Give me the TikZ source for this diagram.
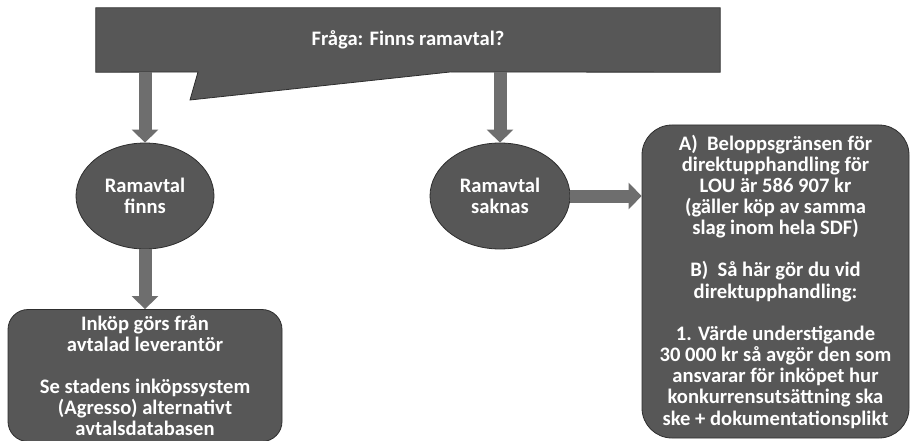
\documentclass[tikz,border=0pt]{standalone}
\usepackage{fontspec}
\setmainfont{Carlito}
\usetikzlibrary{arrows.meta,shapes.geometric,backgrounds}
\definecolor{boxgray}{HTML}{575757}
\definecolor{edgegray}{HTML}{2E2E2E}
\definecolor{arrgray}{HTML}{6E6E6E}
\tikzset{
  txt/.style={text=white,font=\bfseries\fontsize{20.6}{21.15}\selectfont,align=center,inner sep=0pt},
  oval/.style={ellipse,txt,fill=boxgray,draw=edgegray,line width=0.8pt,minimum width=138pt,minimum height=106pt},
  rbox/.style={rectangle,txt,fill=boxgray,draw=edgegray,line width=0.8pt},
  bigarrow/.style={draw=arrgray,line width=13pt,-{Triangle[width=26pt,length=13pt]}},
}
\begin{document}
\begin{tikzpicture}[x=1pt,y=-1pt]
\useasboundingbox (0,0) rectangle (912,441);
% question callout
\node[txt,minimum width=624pt,minimum height=64pt] (q) at (408,40) {\raisebox{-3pt}{Fråga: Finns ramavtal?}};
\coordinate (tailL) at (198,72);
\coordinate (tailTip) at (190,100);
\coordinate (tailR) at (450,72);
\begin{scope}[on background layer]
\path[fill=boxgray,draw=edgegray,line width=0.8pt]
  (q.north west) -- (q.north east) -- (q.south east) -- (tailR) -- (tailTip) -- (tailL) -- (q.south west) -- cycle;
\end{scope}
% ovals
\node[oval] (finns) at (145,196) {Ramavtal\\finns};
\node[oval,minimum width=140pt] (saknas) at (500,196) {Ramavtal\\saknas};
% boxes
\node[rbox,rounded corners=20pt,minimum width=274pt,minimum height=132pt] (inkop) at (145,375.5)
  {Inköp görs från\\avtalad leverantör\\[21.15pt]Se stadens inköpssystem\\(Agresso) alternativt\\avtalsdatabasen};
\node[rbox,rounded corners=30pt,minimum width=267pt,minimum height=313pt] (direkt) at (775.5,281.5)
  {A)\ \ Beloppsgränsen för\\direktupphandling för\\LOU är 586 907 kr\\(gäller köp av samma\\slag inom hela SDF)\\[21.15pt]B)\ \ Så här gör du vid\\direktupphandling:\\[21.15pt]1. Värde understigande\\30 000 kr så avgör den som\\ansvarar för inköpet hur\\konkurrensutsättning ska\\ske + dokumentationsplikt};
% connectors
\draw[bigarrow] (q.south west -| finns.north) -- (finns.north);
\draw[bigarrow] (q.south west -| saknas.north) -- (saknas.north);
\draw[bigarrow] (finns.south) -- (inkop.north);
\draw[bigarrow] (saknas.east) -- (direkt.west |- saknas.east);
\end{tikzpicture}
\end{document}
